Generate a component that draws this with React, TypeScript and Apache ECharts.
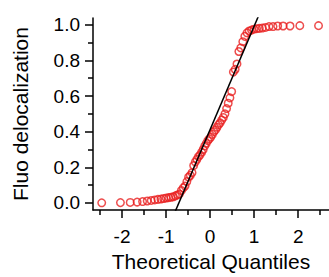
import React, { useEffect, useRef } from "react";
import * as echarts from "echarts";

// Theoretical normal quantiles (n = 72)
const quantiles: number[] = [
  -2.462, -2.037, -1.815, -1.658, -1.534, -1.429, -1.338, -1.258, -1.185, -1.117,
  -1.055, -0.996, -0.94, -0.887, -0.837, -0.788, -0.742, -0.697, -0.653, -0.61,
  -0.569, -0.528, -0.489, -0.45, -0.411, -0.374, -0.337, -0.3, -0.264, -0.228,
  -0.193, -0.157, -0.122, -0.087, -0.052, -0.017,
  0.017, 0.052, 0.087, 0.122, 0.157, 0.193, 0.228, 0.264, 0.3, 0.337,
  0.374, 0.411, 0.45, 0.489, 0.528, 0.569, 0.61, 0.653, 0.697, 0.742,
  0.788, 0.837, 0.887, 0.94, 0.996, 1.055, 1.117, 1.185, 1.258, 1.338,
  1.429, 1.534, 1.658, 1.815, 2.037, 2.462,
];

const fluo: number[] = [
  0.001, 0.002, 0.003, 0.005, 0.008, 0.011, 0.014, 0.017, 0.02, 0.022,
  0.025, 0.028, 0.03, 0.032, 0.035, 0.04, 0.045, 0.05, 0.07, 0.085,
  0.095, 0.12, 0.145, 0.155, 0.17, 0.21, 0.23, 0.245, 0.26, 0.27,
  0.285, 0.3, 0.32, 0.335, 0.35, 0.36,
  0.37, 0.385, 0.4, 0.41, 0.425, 0.44, 0.45, 0.465, 0.48, 0.5,
  0.53, 0.56, 0.59, 0.625, 0.735, 0.75, 0.78, 0.85, 0.87, 0.905,
  0.935, 0.955, 0.965, 0.97, 0.975, 0.978, 0.98, 0.982, 0.985, 0.99,
  0.99, 0.993, 0.993, 0.993, 0.995, 0.995,
];

// Reference line (x, y endpoints; clipped by the plot area)
const refLineX: number[] = [-1.0, 1.2];
const refLineY: number[] = [-0.168, 1.108];

const xMajorTicks: number[] = [-2, -1, 0, 1, 2];
const xMinorTicks: number[] = [-2.5, -1.5, -0.5, 0.5, 1.5, 2.5];
const yMajorTicks: number[] = [0, 0.2, 0.4, 0.6, 0.8, 1.0];
const yMinorTicks: number[] = [0.1, 0.3, 0.5, 0.7, 0.9];

const xTitle = "Theoretical Quantiles";
const yTitle = "Fluo delocalization";

export default function App() {
  const ref = useRef<HTMLDivElement>(null);
  useEffect(() => {
    document.body.style.margin = "0";
    if (!ref.current) return;
    const chart = echarts.init(ref.current, undefined, { renderer: "svg" });
    const font = "Liberation Sans";
    const xMin = -2.66, xMax = 2.7, yMin = -0.04, yMax = 1.038;
    const lineStyle = { color: "#000", width: 1.5 };
    chart.setOption({
      animation: false,
      backgroundColor: "#fff",
      grid: { left: 93, top: 18, right: 0, bottom: 61, containLabel: false },
      xAxis: [
        {
          type: "value", min: xMin, max: xMax,
          axisLine: { show: true, onZero: false, lineStyle },
          splitLine: { show: false },
          axisTick: { show: true, length: 8, lineStyle, customValues: xMajorTicks },
          axisLabel: {
            show: true, customValues: xMajorTicks, margin: 17,
            color: "#000", fontSize: 19, fontFamily: font,
            formatter: (v: number) => (v < 0 ? "-" + Math.abs(v) : String(v)),
          },
          name: xTitle, nameLocation: "middle", nameGap: 37,
          nameTextStyle: { color: "#000", fontSize: 21, fontFamily: font },
        },
        {
          type: "value", min: xMin, max: xMax, position: "bottom",
          axisLine: { show: false, onZero: false },
          splitLine: { show: false },
          axisTick: { show: true, length: 5, lineStyle, customValues: xMinorTicks },
          axisLabel: { show: false },
        },
      ],
      yAxis: [
        {
          type: "value", min: yMin, max: yMax,
          axisLine: { show: true, onZero: false, lineStyle },
          splitLine: { show: false },
          axisTick: { show: true, length: 8, lineStyle, customValues: yMajorTicks },
          axisLabel: {
            show: true, customValues: yMajorTicks, margin: 13,
            color: "#000", fontSize: 19, fontFamily: font,
            formatter: (v: number) => v.toFixed(1),
          },
          name: yTitle, nameLocation: "middle", nameGap: 62, nameRotate: 90,
          nameTextStyle: { color: "#000", fontSize: 21, fontFamily: font },
        },
        {
          type: "value", min: yMin, max: yMax, position: "left",
          axisLine: { show: false, onZero: false },
          splitLine: { show: false },
          axisTick: { show: true, length: 5, lineStyle, customValues: yMinorTicks },
          axisLabel: { show: false },
        },
      ],
      series: [
        {
          type: "scatter",
          xAxisIndex: 0, yAxisIndex: 0,
          data: quantiles.map((q, i) => [q, fluo[i]]),
          symbol: "circle",
          symbolSize: 7.5,
          itemStyle: { color: "rgba(0,0,0,0)", borderColor: "#e82020", borderWidth: 1.5 },
          z: 2,
        },
        {
          type: "line",
          xAxisIndex: 0, yAxisIndex: 0,
          data: refLineX.map((x, i) => [x, refLineY[i]]),
          showSymbol: false,
          symbol: "none",
          clip: true,
          lineStyle: { color: "#000", width: 1.5 },
          z: 3,
        },
      ],
    });
    return () => chart.dispose();
  }, []);
  return <div ref={ref} style={{ width: 329, height: 277 }} />;
}
